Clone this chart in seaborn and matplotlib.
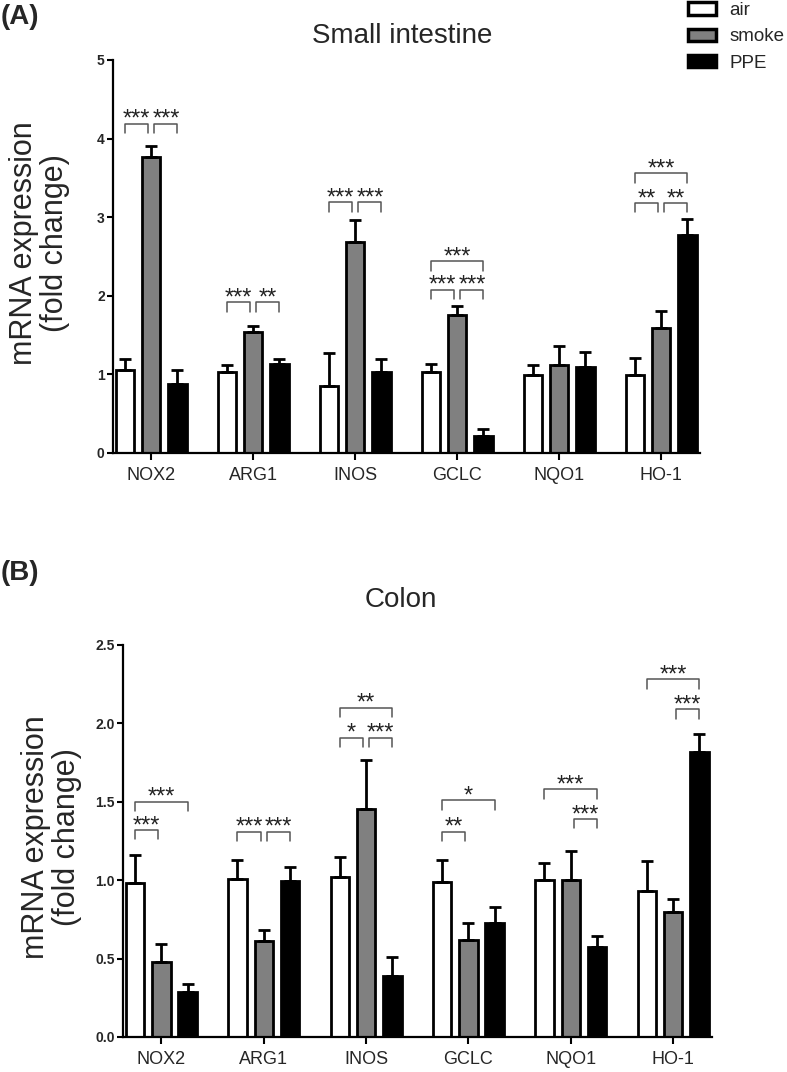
import numpy as np
import pandas as pd
import matplotlib
matplotlib.use("Agg")
import matplotlib.pyplot as plt
import matplotlib.patches as mpatches
import seaborn as sns

# genes and treatment groups
genes = ['NOX2', 'ARG1', 'INOS', 'GCLC', 'NQO1', 'HO-1']
groups = ['air', 'smoke', 'PPE']
palette = {'air': 'white', 'smoke': '#808080', 'PPE': 'black'}

# small intestine (panel A), mean and upper error (SEM)
si_air = [1.05, 1.03, 0.85, 1.03, 0.99, 0.99]
si_air_err = [0.14, 0.09, 0.42, 0.10, 0.13, 0.22]
si_smoke = [3.76, 1.54, 2.68, 1.76, 1.12, 1.59]
si_smoke_err = [0.15, 0.08, 0.28, 0.11, 0.24, 0.22]
si_ppe = [0.88, 1.13, 1.03, 0.21, 1.09, 2.77]
si_ppe_err = [0.17, 0.07, 0.17, 0.10, 0.20, 0.21]

# colon (panel B)
colon_air = [0.98, 1.01, 1.02, 0.99, 1.00, 0.93]
colon_air_err = [0.18, 0.12, 0.13, 0.14, 0.11, 0.19]
colon_smoke = [0.48, 0.61, 1.455, 0.62, 1.00, 0.80]
colon_smoke_err = [0.115, 0.075, 0.31, 0.11, 0.185, 0.083]
colon_ppe = [0.287, 0.998, 0.387, 0.728, 0.577, 1.817]
colon_ppe_err = [0.051, 0.087, 0.123, 0.10, 0.068, 0.113]

# significance brackets: gene, group a, group b, bracket height, stars
si_sig = [
    ('NOX2', 'air', 'smoke', 4.19, '***'), ('NOX2', 'smoke', 'PPE', 4.19, '***'),
    ('ARG1', 'air', 'smoke', 1.92, '***'), ('ARG1', 'smoke', 'PPE', 1.92, '**'),
    ('INOS', 'air', 'smoke', 3.19, '***'), ('INOS', 'smoke', 'PPE', 3.19, '***'),
    ('GCLC', 'air', 'smoke', 2.08, '***'), ('GCLC', 'smoke', 'PPE', 2.08, '***'),
    ('GCLC', 'air', 'PPE', 2.44, '***'),
    ('HO-1', 'air', 'smoke', 3.18, '**'), ('HO-1', 'smoke', 'PPE', 3.18, '**'),
    ('HO-1', 'air', 'PPE', 3.56, '***'),
]
colon_sig = [
    ('NOX2', 'air', 'smoke', 1.32, '***'), ('NOX2', 'air', 'PPE', 1.50, '***'),
    ('ARG1', 'air', 'smoke', 1.31, '***'), ('ARG1', 'smoke', 'PPE', 1.31, '***'),
    ('INOS', 'air', 'smoke', 1.91, '*'), ('INOS', 'smoke', 'PPE', 1.91, '***'),
    ('INOS', 'air', 'PPE', 2.10, '**'),
    ('GCLC', 'air', 'smoke', 1.31, '**'), ('GCLC', 'air', 'PPE', 1.51, '*'),
    ('NQO1', 'smoke', 'PPE', 1.39, '***'), ('NQO1', 'air', 'PPE', 1.58, '***'),
    ('HO-1', 'smoke', 'PPE', 2.09, '***'), ('HO-1', 'air', 'PPE', 2.28, '***'),
]

sns.set_theme(style='ticks')
plt.rcParams['font.family'] = ['Liberation Sans', 'DejaVu Sans']
plt.rcParams['axes.linewidth'] = 1.6


def draw_panel(ax, means, errs, sig, ymax, yticks, ylabels, label_x, label_y):
    df = pd.DataFrame({
        'gene': genes * 3,
        'group': np.repeat(groups, len(genes)),
        'value': means[0] + means[1] + means[2],
    })
    sns.barplot(data=df, x='gene', y='value', hue='group', order=genes,
                hue_order=groups, palette=palette, saturation=1,
                width=0.77, gap=0.3, edgecolor='black', linewidth=2,
                errorbar=None, legend=False, ax=ax)

    centers = {}
    for i, grp in enumerate(groups):
        bars = ax.containers[i]
        xs = [b.get_x() + b.get_width() / 2 for b in bars]
        for g, x in zip(genes, xs):
            centers[(g, grp)] = x
        ax.errorbar(xs, means[i], yerr=[np.zeros(len(genes)), errs[i]],
                    fmt='none', ecolor='black', elinewidth=2,
                    capsize=4, capthick=2, zorder=1)

    leg = 0.024 * ymax
    for gene, a, b, y, txt in sig:
        x1, x2 = centers[(gene, a)], centers[(gene, b)]
        if a == 'air' and b == 'smoke':
            x2 -= 0.03
        if a == 'smoke':
            x1 += 0.03
        ax.plot([x1, x1, x2, x2], [y - leg, y, y, y - leg],
                color='#555555', lw=1.1, zorder=3)
        ax.annotate(txt, ((x1 + x2) / 2, y), xytext=(0, -1.5),
                    textcoords='offset points', ha='center', va='baseline',
                    fontsize=17, color='#222222')

    ax.set_xlim(-0.375, 5.38)
    ax.set_ylim(0, ymax)
    ax.set_yticks(yticks, ylabels, fontweight='bold')
    ax.set_xlabel('')
    ax.set_ylabel('mRNA expression\n(fold change)', fontsize=22,
                  linespacing=1.05)
    ax.yaxis.set_label_coords(label_x, label_y)
    ax.tick_params(axis='x', length=5, width=1.5, labelsize=13, pad=5,
                   color='black')
    ax.tick_params(axis='y', length=4, width=1.5, labelsize=10, pad=2,
                   color='black')
    sns.despine(ax=ax)
    for s in ['left', 'bottom']:
        ax.spines[s].set_color('black')


fig = plt.figure(figsize=(7.87, 10.72), dpi=100)
ax_a = fig.add_axes([113 / 787, 1 - 453 / 1072, 587 / 787, 393 / 1072])
ax_b = fig.add_axes([123 / 787, 1 - 1037 / 1072, 589 / 787, 392 / 1072])

draw_panel(ax_a, [si_air, si_smoke, si_ppe],
           [si_air_err, si_smoke_err, si_ppe_err], si_sig,
           5, [0, 1, 2, 3, 4, 5], ['0', '1', '2', '3', '4', '5'],
           -0.073, 0.534)
draw_panel(ax_b, [colon_air, colon_smoke, colon_ppe],
           [colon_air_err, colon_smoke_err, colon_ppe_err], colon_sig,
           2.5, [0, 0.5, 1.0, 1.5, 2.0, 2.5],
           ['0.0', '0.5', '1.0', '1.5', '2.0', '2.5'], -0.07, 0.511)

fig.text(402 / 787, 1 - 36 / 1072, 'Small intestine', fontsize=20,
         ha='center', va='center')
fig.text(401 / 787, 1 - 600 / 1072, 'Colon', fontsize=20,
         ha='center', va='center')
fig.text(1 / 787, 1 - 17 / 1072, '(A)', fontsize=20, fontweight='bold',
         ha='left', va='center')
fig.text(1 / 787, 1 - 573 / 1072, '(B)', fontsize=20, fontweight='bold',
         ha='left', va='center')

handles = [mpatches.Patch(facecolor=palette[g], edgecolor='black',
                          linewidth=2.5, label=g) for g in groups]
fig.legend(handles=handles, loc='upper left',
           bbox_to_anchor=(688 / 787, 1 - 2 / 1072), frameon=False,
           fontsize=13.5, handlelength=1.5, handleheight=0.65,
           labelspacing=0.5, handletextpad=0.7, borderpad=0,
           borderaxespad=0)

fig.savefig('out.png', dpi=100)
